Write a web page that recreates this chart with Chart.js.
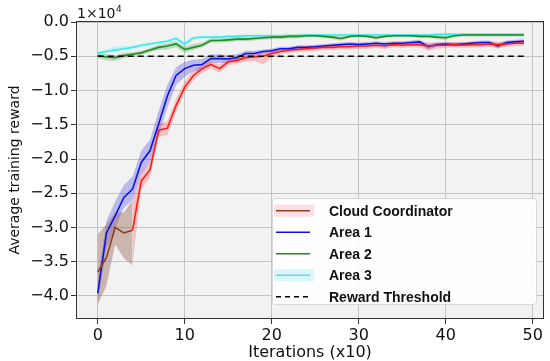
<!DOCTYPE html>
<html>
<head>
<meta charset="utf-8">
<script src="https://cdn.jsdelivr.net/npm/chart.js@4.4.0/dist/chart.umd.min.js"></script>
<style>
    html, body { margin: 0; padding: 0; background: #fff; }
    #wrap { width: 550px; height: 361px; }
</style>
</head>
<body>
<div id="wrap"><canvas id="reward-graph" width="550" height="361"></canvas></div>
<script>
;(function () {
    'use strict';

    // values in units of 1e4
    var iterations = Array.from({length: 50}, function (v, i) { return i; });
    var xTicks = [0, 10, 20, 30, 40, 50];
    var yTicks = [-4.0, -3.5, -3.0, -2.5, -2.0, -1.5, -1.0, -0.5, 0.0];
    var threshold = -0.5;

    var cloudMean = [-3.65,-3.44,-3.00,-3.08,-3.04,-2.32,-2.16,-1.58,-1.55,-1.22,
                     -0.95,-0.78,-0.68,-0.62,-0.68,-0.58,-0.56,-0.52,-0.51,-0.50,
                     -0.46,-0.43,-0.41,-0.40,-0.39,-0.38,-0.37,-0.37,-0.36,-0.36,
                     -0.35,-0.35,-0.34,-0.35,-0.33,-0.34,-0.33,-0.33,-0.35,-0.34,
                     -0.34,-0.33,-0.34,-0.33,-0.33,-0.32,-0.33,-0.32,-0.31,-0.31];
    var cloudHigh = [-3.10,-2.95,-2.78,-2.78,-2.60,-2.20,-2.04,-1.48,-1.45,-1.12,
                     -0.87,-0.71,-0.62,-0.57,-0.62,-0.53,-0.51,-0.48,-0.47,-0.45,
                     -0.42,-0.39,-0.37,-0.36,-0.35,-0.34,-0.33,-0.33,-0.32,-0.32,
                     -0.31,-0.31,-0.30,-0.31,-0.29,-0.30,-0.29,-0.29,-0.30,-0.30,
                     -0.30,-0.29,-0.30,-0.29,-0.29,-0.28,-0.29,-0.28,-0.27,-0.27];
    var cloudLow  = [-4.12,-3.85,-3.25,-3.45,-3.55,-2.44,-2.28,-1.68,-1.65,-1.32,
                     -1.03,-0.85,-0.74,-0.68,-0.74,-0.63,-0.61,-0.58,-0.57,-0.62,
                     -0.52,-0.47,-0.45,-0.44,-0.43,-0.42,-0.41,-0.41,-0.40,-0.40,
                     -0.39,-0.39,-0.38,-0.39,-0.37,-0.38,-0.37,-0.37,-0.42,-0.39,
                     -0.38,-0.37,-0.38,-0.37,-0.37,-0.36,-0.38,-0.36,-0.35,-0.35];

    var area1Mean = [-3.96,-3.08,-2.83,-2.56,-2.44,-2.05,-1.88,-1.49,-1.08,-0.78,
                     -0.68,-0.63,-0.62,-0.535,-0.535,-0.54,-0.52,-0.46,-0.46,-0.43,
                     -0.42,-0.39,-0.39,-0.37,-0.37,-0.36,-0.35,-0.34,-0.33,-0.32,
                     -0.33,-0.32,-0.31,-0.32,-0.31,-0.31,-0.30,-0.29,-0.36,-0.33,
                     -0.32,-0.33,-0.32,-0.31,-0.30,-0.30,-0.35,-0.30,-0.29,-0.28];
    var area1High = [-3.75,-2.90,-2.62,-2.38,-2.26,-1.88,-1.72,-1.30,-0.92,-0.66,
                     -0.58,-0.55,-0.54,-0.47,-0.47,-0.48,-0.47,-0.42,-0.42,-0.40,
                     -0.39,-0.36,-0.36,-0.34,-0.34,-0.33,-0.32,-0.31,-0.30,-0.29,
                     -0.30,-0.29,-0.28,-0.29,-0.28,-0.28,-0.27,-0.26,-0.32,-0.30,
                     -0.29,-0.30,-0.29,-0.28,-0.27,-0.27,-0.31,-0.27,-0.26,-0.25];
    var area1Low  = [-4.10,-3.30,-3.02,-2.72,-2.60,-2.22,-2.04,-1.66,-1.25,-0.92,
                     -0.80,-0.72,-0.70,-0.60,-0.60,-0.60,-0.58,-0.51,-0.51,-0.47,
                     -0.46,-0.42,-0.42,-0.40,-0.40,-0.39,-0.38,-0.37,-0.36,-0.35,
                     -0.36,-0.35,-0.34,-0.35,-0.34,-0.34,-0.33,-0.32,-0.40,-0.36,
                     -0.35,-0.36,-0.35,-0.34,-0.33,-0.33,-0.39,-0.33,-0.32,-0.31];

    var area2Mean = [-0.49,-0.51,-0.52,-0.49,-0.47,-0.45,-0.41,-0.37,-0.35,-0.32,
                     -0.40,-0.37,-0.34,-0.27,-0.27,-0.26,-0.25,-0.25,-0.24,-0.23,
                     -0.22,-0.22,-0.21,-0.21,-0.20,-0.20,-0.21,-0.22,-0.24,-0.21,
                     -0.20,-0.21,-0.23,-0.21,-0.20,-0.20,-0.20,-0.21,-0.21,-0.22,
                     -0.23,-0.20,-0.19,-0.19,-0.19,-0.19,-0.19,-0.19,-0.19,-0.19];
    var area2High = [-0.45,-0.47,-0.48,-0.45,-0.44,-0.42,-0.38,-0.33,-0.31,-0.28,
                     -0.35,-0.32,-0.30,-0.24,-0.24,-0.23,-0.22,-0.22,-0.21,-0.20,
                     -0.19,-0.19,-0.18,-0.18,-0.18,-0.18,-0.19,-0.20,-0.21,-0.19,
                     -0.18,-0.19,-0.20,-0.19,-0.18,-0.18,-0.18,-0.19,-0.19,-0.19,
                     -0.20,-0.18,-0.17,-0.17,-0.17,-0.17,-0.17,-0.17,-0.17,-0.17];
    var area2Low  = [-0.53,-0.56,-0.57,-0.53,-0.50,-0.48,-0.44,-0.41,-0.40,-0.37,
                     -0.45,-0.41,-0.37,-0.30,-0.30,-0.29,-0.28,-0.28,-0.27,-0.26,
                     -0.25,-0.25,-0.24,-0.24,-0.22,-0.22,-0.23,-0.25,-0.27,-0.23,
                     -0.22,-0.23,-0.26,-0.23,-0.22,-0.22,-0.22,-0.23,-0.23,-0.25,
                     -0.26,-0.22,-0.21,-0.21,-0.21,-0.21,-0.21,-0.21,-0.21,-0.21];

    var area3Mean = [-0.45,-0.43,-0.41,-0.39,-0.37,-0.34,-0.32,-0.30,-0.28,-0.24,
                     -0.32,-0.23,-0.22,-0.22,-0.22,-0.21,-0.21,-0.20,-0.20,-0.20,
                     -0.20,-0.20,-0.20,-0.20,-0.19,-0.19,-0.19,-0.19,-0.19,-0.19,
                     -0.19,-0.19,-0.19,-0.19,-0.19,-0.19,-0.19,-0.19,-0.19,-0.18,
                     -0.18,-0.18,-0.18,-0.18,-0.18,-0.18,-0.18,-0.18,-0.18,-0.18];
    var area3High = [-0.43,-0.40,-0.36,-0.35,-0.35,-0.32,-0.30,-0.28,-0.26,-0.22,
                     -0.29,-0.21,-0.20,-0.20,-0.20,-0.19,-0.19,-0.18,-0.18,-0.18,
                     -0.18,-0.18,-0.18,-0.18,-0.17,-0.17,-0.17,-0.17,-0.17,-0.17,
                     -0.17,-0.17,-0.17,-0.17,-0.17,-0.17,-0.17,-0.17,-0.17,-0.16,
                     -0.16,-0.16,-0.16,-0.16,-0.16,-0.16,-0.16,-0.16,-0.16,-0.16];
    var area3Low  = [-0.47,-0.45,-0.43,-0.41,-0.39,-0.36,-0.34,-0.32,-0.30,-0.26,
                     -0.35,-0.25,-0.24,-0.24,-0.24,-0.23,-0.23,-0.22,-0.22,-0.22,
                     -0.22,-0.22,-0.22,-0.22,-0.21,-0.21,-0.21,-0.21,-0.21,-0.21,
                     -0.21,-0.21,-0.21,-0.21,-0.21,-0.21,-0.21,-0.21,-0.21,-0.20,
                     -0.20,-0.20,-0.20,-0.20,-0.20,-0.20,-0.20,-0.20,-0.20,-0.20];

    var seriesNames = ['Cloud Coordinator', 'Area 1', 'Area 2', 'Area 3', 'Reward Threshold'];

    var vm = {};
    vm.graph = document.getElementById('reward-graph');

    var BROWN = '#8b4020';
    var RED = '#ff1a1a';
    var BLUE = '#1010e0';
    var GREEN = '#1e8c1e';
    var CYAN = '#30f0f0';
    var FONT = "'DejaVu Sans', sans-serif";

    function pts(values) {
        return values.map(function (v, i) { return {x: iterations[i], y: v}; });
    }

    function line(label, values, color, extra) {
        var ds = {
            label: label,
            data: pts(values),
            borderColor: color,
            borderWidth: 1.6,
            pointRadius: 0,
            fill: false,
            tension: 0,
            order: 0
        };
        if (extra) {
            Object.keys(extra).forEach(function (k) { ds[k] = extra[k]; });
        }
        return ds;
    }

    // upper bound filled down to the lower bound that follows it
    function band(high, low, fillColor, segment) {
        var upper = {
            data: pts(high),
            borderWidth: 0,
            borderColor: 'rgba(0,0,0,0)',
            pointRadius: 0,
            backgroundColor: fillColor,
            fill: '+1',
            order: 2
        };
        if (segment) upper.segment = segment;
        var lower = {
            data: pts(low),
            borderWidth: 0,
            borderColor: 'rgba(0,0,0,0)',
            pointRadius: 0,
            fill: false,
            order: 2
        };
        return [upper, lower];
    }

    var earlyBrown = function (ctx, a, b) {
        return ctx.p0DataIndex < 4 ? a : b;
    };

    var datasets = [
        line(seriesNames[4], iterations.map(function () { return threshold; }), '#000',
            {borderDash: [6, 4], borderWidth: 1.6}),
        line(seriesNames[0], cloudMean, RED, {
            segment: {borderColor: function (ctx) { return earlyBrown(ctx, BROWN, RED); }}
        }),
        line(seriesNames[1], area1Mean, BLUE),
        line(seriesNames[2], area2Mean, GREEN),
        line(seriesNames[3], area3Mean, CYAN)
    ];
    datasets = datasets
        .concat(band(cloudHigh, cloudLow, 'rgba(255,70,70,0.28)', {
            backgroundColor: function (ctx) {
                return earlyBrown(ctx, 'rgba(150,100,80,0.42)', 'rgba(255,70,70,0.28)');
            }
        }))
        .concat(band(area1High, area1Low, 'rgba(40,40,230,0.28)'))
        .concat(band(area2High, area2Low, 'rgba(30,140,30,0.25)'))
        .concat(band(area3High, area3Low, 'rgba(60,240,240,0.25)'));

    var frame = {
        id: 'frame',
        beforeDraw: function (chart) {
            var a = chart.chartArea, c = chart.ctx;
            c.save();
            c.fillStyle = '#f2f2f2';
            c.fillRect(a.left, a.top, a.right - a.left, a.bottom - a.top);
            c.restore();
        },
        afterDatasetsDraw: function (chart) {
            var a = chart.chartArea, c = chart.ctx;
            c.save();
            c.strokeStyle = '#333';
            c.lineWidth = 1;
            c.strokeRect(a.left + 0.5, a.top + 0.5, a.right - a.left - 1, a.bottom - a.top - 1);
            c.restore();
        },
        afterDraw: function (chart) {
            var c = chart.ctx;
            c.save();
            // offset text of the y axis
            c.fillStyle = '#111';
            c.textBaseline = 'alphabetic';
            c.font = '14px ' + FONT;
            c.fillText('1\u00d710', 77, 18);
            var w = c.measureText('1\u00d710').width;
            c.font = '9px ' + FONT;
            c.fillText('4', 77 + w + 0.5, 12);

            // legend box
            var bx = 272, by = 198, bw = 264, bh = 106;
            c.fillStyle = 'rgba(255,255,255,0.9)';
            c.strokeStyle = '#d8d8d8';
            c.lineWidth = 1;
            c.beginPath();
            c.roundRect(bx + 0.5, by + 0.5, bw, bh, 3);
            c.fill();
            c.stroke();

            var items = [
                {label: seriesNames[0], color: BROWN, patch: 'rgba(255,150,170,0.3)'},
                {label: seriesNames[1], color: BLUE},
                {label: seriesNames[2], color: GREEN},
                {label: seriesNames[3], color: '#80c8f0', patch: 'rgba(120,240,240,0.3)'},
                {label: seriesNames[4], color: '#000', dash: [5, 4]}
            ];
            c.font = "bold 14px 'Liberation Sans', Arial, sans-serif";
            c.textBaseline = 'middle';
            items.forEach(function (it, i) {
                var y = 210.7 + i * 21.5;
                if (it.patch) {
                    c.fillStyle = it.patch;
                    c.fillRect(274, y - 6, 40, 12);
                }
                c.strokeStyle = it.color;
                c.lineWidth = 1.6;
                c.setLineDash(it.dash || []);
                c.beginPath();
                c.moveTo(276, y);
                c.lineTo(310, y);
                c.stroke();
                c.setLineDash([]);
                c.fillStyle = '#111';
                c.fillText(it.label, 329, y + 1);
            });
            c.restore();
        }
    };

    var tickFont = {family: FONT, size: 16};

    new Chart(vm.graph, {
        type: 'line',
        data: {datasets: datasets},
        options: {
            responsive: false,
            animation: false,
            devicePixelRatio: 1,
            layout: {padding: {top: 21, right: 6, left: 0, bottom: 0}},
            plugins: {
                legend: {display: false},
                tooltip: {enabled: false}
            },
            scales: {
                x: {
                    type: 'linear',
                    min: -2.5,
                    max: 51.3,
                    afterBuildTicks: function (s) {
                        s.ticks = xTicks.map(function (v) { return {value: v}; });
                    },
                    afterFit: function (s) { s.height = 42; },
                    grid: {color: '#c4c4c4', tickColor: '#333', tickLength: 5},
                    border: {display: false},
                    ticks: {
                        font: tickFont,
                        color: '#111',
                        padding: 2,
                        maxRotation: 0,
                        callback: function (v) { return String(v); }
                    },
                    title: {
                        display: true,
                        text: 'Iterations (x10)',
                        font: {family: FONT, size: 16, lineHeight: 1},
                        color: '#111',
                        padding: {top: 0, bottom: 0}
                    }
                },
                y: {
                    type: 'linear',
                    min: -4.336,
                    max: 0.015,
                    afterBuildTicks: function (s) {
                        s.ticks = yTicks.map(function (v) { return {value: v}; });
                    },
                    afterFit: function (s) { s.width = 76; },
                    grid: {color: '#c4c4c4', tickColor: '#333', tickLength: 5},
                    border: {display: false},
                    ticks: {
                        font: tickFont,
                        color: '#111',
                        padding: 2,
                        callback: function (v) {
                            return (v < 0 ? '\u2212' : '') + Math.abs(v).toFixed(1);
                        }
                    },
                    title: {
                        display: true,
                        text: 'Average training reward',
                        font: {family: FONT, size: 14},
                        color: '#111',
                        padding: {top: 7, bottom: 0}
                    }
                }
            }
        },
        plugins: [frame]
    });
})();
</script>
</body>
</html>
